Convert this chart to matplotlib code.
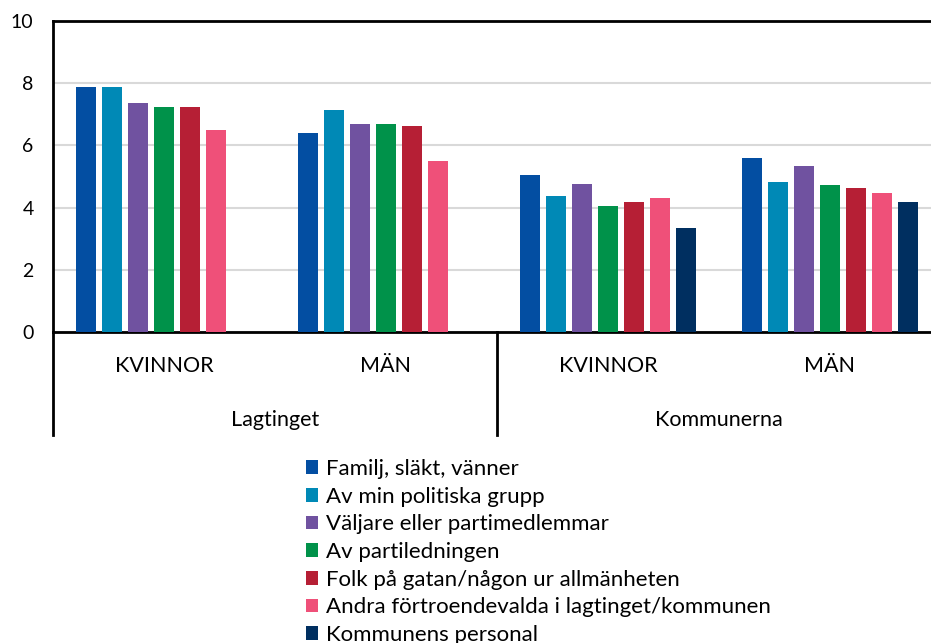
import numpy as np
import matplotlib
matplotlib.use("Agg")
import matplotlib.pyplot as plt
from matplotlib.patches import Patch
from matplotlib.lines import Line2D

plt.rcParams['font.family'] = ['Lato', 'DejaVu Sans']

groups = ['Lagtinget', 'Kommunerna']
subgroups = ['KVINNOR', 'MÄN', 'KVINNOR', 'MÄN']
series = ['Familj, släkt, vänner', 'Av min politiska grupp', 'Väljare eller partimedlemmar',
          'Av partiledningen', 'Folk på gatan/någon ur allmänheten',
          'Andra förtroendevalda i lagtinget/kommunen', 'Kommunens personal']
colors = ['#034ea2', '#0089b6', '#7052a0', '#00924a', '#b61f35', '#ef5079', '#002f60']

familj = [7.87, 6.40, 5.04, 5.58]
politiska_grupp = [7.87, 7.14, 4.37, 4.82]
valjare = [7.35, 6.68, 4.77, 5.33]
partiledningen = [7.23, 6.68, 4.04, 4.74]
folk = [7.23, 6.61, 4.18, 4.63]
andra = [6.49, 5.50, 4.30, 4.48]
personal = [np.nan, np.nan, 3.33, 4.18]
values = [familj, politiska_grupp, valjare, partiledningen, folk, andra, personal]

W, H = 931, 643
fig = plt.figure(figsize=(W / 100, H / 100), dpi=100)
ax = fig.add_axes([53 / W, 1 - 332 / H, 888 / W, 311 / H])

x = np.arange(len(subgroups))
step = 0.117
width = 0.093
for i, (name, vals) in enumerate(zip(series, values)):
    ax.bar(x + (i - 3) * step, vals, width, color=colors[i], label=name, zorder=3)

ax.set_xlim(-0.5, 3.5)
ax.set_ylim(0, 10)
ax.set_yticks([0, 2, 4, 6, 8, 10])
ax.tick_params(axis='y', length=0, labelsize=14, pad=14)
ax.set_xticks([])
ax.grid(axis='y', color='#d9d9d9', linewidth=1.5, zorder=0)
for s in ['top', 'left', 'bottom']:
    ax.spines[s].set_color('black')
    ax.spines[s].set_linewidth(2)
ax.spines['right'].set_visible(False)

# two-level category axis
tr = ax.get_xaxis_transform()
for xi, lab in zip(x, subgroups):
    ax.text(xi, -0.109, lab, transform=tr, ha='center', va='center', fontsize=15.5)
for gi, g in enumerate(groups):
    ax.text(gi * 2 + 0.5, -0.282, g, transform=tr, ha='center', va='center', fontsize=15.5)
ax.add_line(Line2D([-0.5, -0.5], [0, -0.331], transform=tr, color='black', lw=2, clip_on=False))
ax.add_line(Line2D([1.5, 1.5], [0, -0.331], transform=tr, color='black', lw=2, clip_on=False))

handles = [Patch(facecolor=c, label=s) for c, s in zip(colors, series)]
fig.legend(handles=handles, loc='upper left', bbox_to_anchor=(306 / W, 1 - 459 / H),
           frameon=False, fontsize=16, handlelength=0.56, handleheight=0.56,
           handletextpad=0.35, labelspacing=0.345, borderpad=0, borderaxespad=0)

fig.savefig('out.png', dpi=100)
